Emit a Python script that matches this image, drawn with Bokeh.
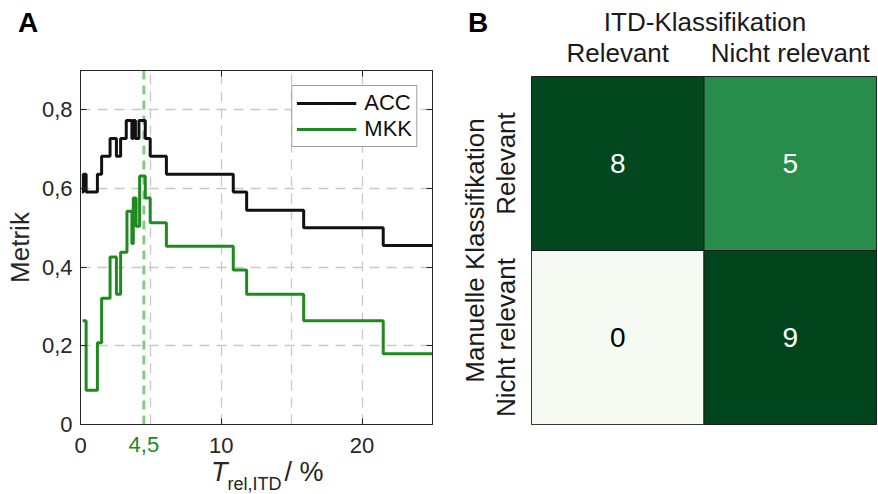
from bokeh.plotting import figure
from bokeh.models import (FixedTicker, Span, LinearAxis, Range1d, FactorRange, Div,
                          CustomJSTickFormatter, ColumnDataSource)
from bokeh.layouts import row, column
from bokeh.embed import file_html
from bokeh.resources import INLINE
from bokeh.core.properties import value

FONT = "Liberation Sans"

# ---------------- Panel A data ----------------
thr_acc = [0.1, 0.2, 0.4, 1.2, 1.5, 2.1, 2.55, 2.85, 3.25, 3.65, 3.75, 3.9, 4.15, 4.6, 4.95,
           6.1, 10.85, 11.8, 15.85, 21.5, 25.0]
acc = [0.591, 0.636, 0.591, 0.636, 0.682, 0.727, 0.682, 0.727, 0.773, 0.727, 0.773, 0.727,
       0.773, 0.727, 0.682, 0.636, 0.591, 0.545, 0.5, 0.455, 0.455]
thr_mkk = [0.15, 0.4, 1.2, 1.5, 2.1, 2.55, 2.85, 3.3, 3.65, 3.75, 3.95, 4.2, 4.6, 4.95,
           6.1, 10.85, 11.8, 15.85, 21.5, 25.0]
mkk = [0.264, 0.087, 0.208, 0.321, 0.426, 0.331, 0.438, 0.542, 0.46, 0.576, 0.504, 0.632,
       0.576, 0.513, 0.453, 0.393, 0.331, 0.264, 0.18, 0.18]
opt_threshold = 4.5
x_ticks = [0, 10, 20]
y_ticks = [0, 0.2, 0.4, 0.6, 0.8]

# ---------------- Panel B data ----------------
itd_classes = ["Relevant", "Nicht relevant"]
manual_classes = ["Relevant", "Nicht relevant"]
cm_cols = ["Relevant", "Nicht relevant", "Relevant", "Nicht relevant"]
cm_rows = ["Relevant", "Relevant", "Nicht relevant", "Nicht relevant"]
cm_counts = [8, 5, 0, 9]

GREEN = "#1f8a1f"
AXC = "#262626"

# ================= header (panel letters, heatmap title) =================
header = Div(width=878, height=34, margin=0, text=(
    "<div style=\"position:relative;width:878px;height:34px;font-family:'Liberation Sans';"
    "white-space:nowrap;color:#000\">"
    "<div style='position:absolute;left:18px;top:9px;font-size:28px;line-height:28px;"
    "font-weight:bold'>A</div>"
    "<div style='position:absolute;left:468px;top:9px;font-size:28px;line-height:28px;"
    "font-weight:bold'>B</div>"
    "<div style='position:absolute;left:705px;top:9px;font-size:26px;line-height:26px;"
    "color:#1a1a1a;transform:translateX(-50%)'>ITD-Klassifikation</div>"
    "</div>"))

# ================= Panel A =================
pA = figure(width=448, height=428, x_range=Range1d(0, 25), y_range=Range1d(0, 0.9),
            output_backend="svg", toolbar_location=None,
            min_border_left=80, min_border_right=16, min_border_top=36, min_border_bottom=38)
pA.outline_line_color = AXC

pA.xgrid.ticker = FixedTicker(ticks=[5, 10, 15, 20])
pA.ygrid.ticker = FixedTicker(ticks=[0.2, 0.4, 0.6, 0.8])
for g in (pA.xgrid, pA.ygrid):
    g.grid_line_color = "#c8c8c8"
    g.grid_line_dash = "10 7"
    g.grid_line_width = 1.3

span = Span(location=opt_threshold, dimension="height", line_color="#2a9a2a", line_alpha=0.55,
            line_width=3, line_dash="9 6", level="underlay")
pA.add_layout(span)

pA.step(x=thr_acc, y=acc, mode="after", line_color="#111111", line_width=3, legend_label="ACC")
pA.step(x=thr_mkk, y=mkk, mode="after", line_color=GREEN, line_width=3, legend_label="MKK")

yfmt = CustomJSTickFormatter(code="return tick == 0 ? '0' : tick.toFixed(1).replace('.', ',');")
xfmt = CustomJSTickFormatter(code="return tick.toFixed(0);")
pA.xaxis.ticker = FixedTicker(ticks=x_ticks)
pA.xaxis.formatter = xfmt
pA.yaxis.ticker = FixedTicker(ticks=y_ticks)
pA.yaxis.formatter = yfmt
for ax in (pA.xaxis, pA.yaxis):
    ax.major_tick_in = 6
    ax.major_tick_out = 0
    ax.minor_tick_in = 0
    ax.minor_tick_out = 0
    ax.axis_line_color = AXC
    ax.major_tick_line_color = AXC
    ax.major_label_text_font = FONT
    ax.major_label_text_font_size = "22px"
    ax.major_label_text_color = AXC
pA.xaxis.major_label_standoff = 13
pA.yaxis.major_label_standoff = 8
pA.yaxis.axis_label = "Metrik"
pA.yaxis.axis_label_text_font = FONT
pA.yaxis.axis_label_text_font_size = "26px"
pA.yaxis.axis_label_text_font_style = "normal"
pA.yaxis.axis_label_text_color = AXC
pA.yaxis.axis_label_standoff = 4

# green label of the chosen threshold (second bottom axis pulled up to the tick-label row)
opt_fmt = CustomJSTickFormatter(code="return tick.toFixed(1).replace('.', ',');")
opt_ax = LinearAxis(ticker=FixedTicker(ticks=[opt_threshold]), formatter=opt_fmt,
                    axis_line_color=None, major_tick_line_color=None, minor_tick_line_color=None,
                    major_label_text_color=GREEN, major_label_text_font=FONT,
                    major_label_text_font_size="22px", major_label_standoff=-25)
pA.add_layout(opt_ax, "below")

blank = CustomJSTickFormatter(code="return '';")
top_ax = LinearAxis(ticker=FixedTicker(ticks=x_ticks), formatter=blank, major_tick_in=6,
                    major_tick_out=0, minor_tick_in=0, minor_tick_out=0, axis_line_color=AXC,
                    major_tick_line_color=AXC, major_label_standoff=0)
right_ax = LinearAxis(ticker=FixedTicker(ticks=y_ticks), formatter=blank, major_tick_in=6,
                      major_tick_out=0, minor_tick_in=0, minor_tick_out=0, axis_line_color=AXC,
                      major_tick_line_color=AXC, major_label_standoff=0)
pA.add_layout(top_ax, "above")
pA.add_layout(right_ax, "right")

lg = pA.legend[0]
lg.location = "top_right"
lg.margin = 15
lg.padding = 4
lg.spacing = 0
lg.label_text_font = FONT
lg.label_text_font_size = "22px"
lg.label_text_color = "#111111"
lg.glyph_width = 60
lg.glyph_height = 20
lg.label_height = 20
lg.label_standoff = 8
lg.border_line_color = "#404040"
lg.border_line_width = 1

xlabel = Div(width=448, height=32, margin=0, text=(
    "<div style=\"position:relative;width:448px;height:32px;font-family:'Liberation Sans';"
    "white-space:nowrap;color:#262626\">"
    "<div style='position:absolute;left:211px;top:-3px;font-size:27px;line-height:27px'>"
    "<i>T</i><span style='font-size:18px;position:relative;top:9px'>rel,ITD</span>"
    "<span style='margin-left:3px'>/ %</span></div></div>"))

# ================= Panel B =================
pB = figure(width=430, height=460, x_range=FactorRange(*itd_classes),
            y_range=FactorRange(*manual_classes[::-1]),
            x_axis_location="above",
            output_backend="svg", toolbar_location=None,
            min_border_left=83, min_border_right=2, min_border_top=36, min_border_bottom=70)
pB.xgrid.visible = False
pB.ygrid.visible = False
pB.outline_line_color = "#1a1a1a"

cell_colors = ["#03471f", "#288c4a", "#f5fbf2", "#00441b"]
text_colors = ["white" if c > 2 else "black" for c in cm_counts]
src = ColumnDataSource(dict(x=cm_cols, y=cm_rows, n=[str(c) for c in cm_counts],
                            fill=cell_colors, tc=text_colors))
pB.rect(x="x", y="y", width=1, height=1, source=src, fill_color="fill",
        line_color="#1a1a1a", line_width=1)
pB.text(x="x", y="y", text="n", source=src, text_align="center", text_baseline="middle",
        text_color="tc", text_font=value(FONT), text_font_size=value("28px"))

for ax in (pB.xaxis, pB.yaxis):
    ax.axis_line_color = None
    ax.major_tick_line_color = None
    ax.minor_tick_line_color = None
    ax.major_label_text_font = FONT
    ax.major_label_text_font_size = "26px"
    ax.major_label_text_color = "#1a1a1a"
pB.xaxis.major_label_standoff = 3
pB.yaxis.major_label_standoff = 5
pB.yaxis.major_label_orientation = "vertical"
pB.yaxis.axis_label = "Manuelle Klassifikation"
pB.yaxis.axis_label_text_font = FONT
pB.yaxis.axis_label_text_font_size = "26px"
pB.yaxis.axis_label_text_font_style = "normal"
pB.yaxis.axis_label_text_color = "#1a1a1a"
pB.yaxis.axis_label_standoff = -2

layout = column(header, row(column(pA, xlabel), pB))
open("out.html", "w").write(file_html(layout, INLINE))
